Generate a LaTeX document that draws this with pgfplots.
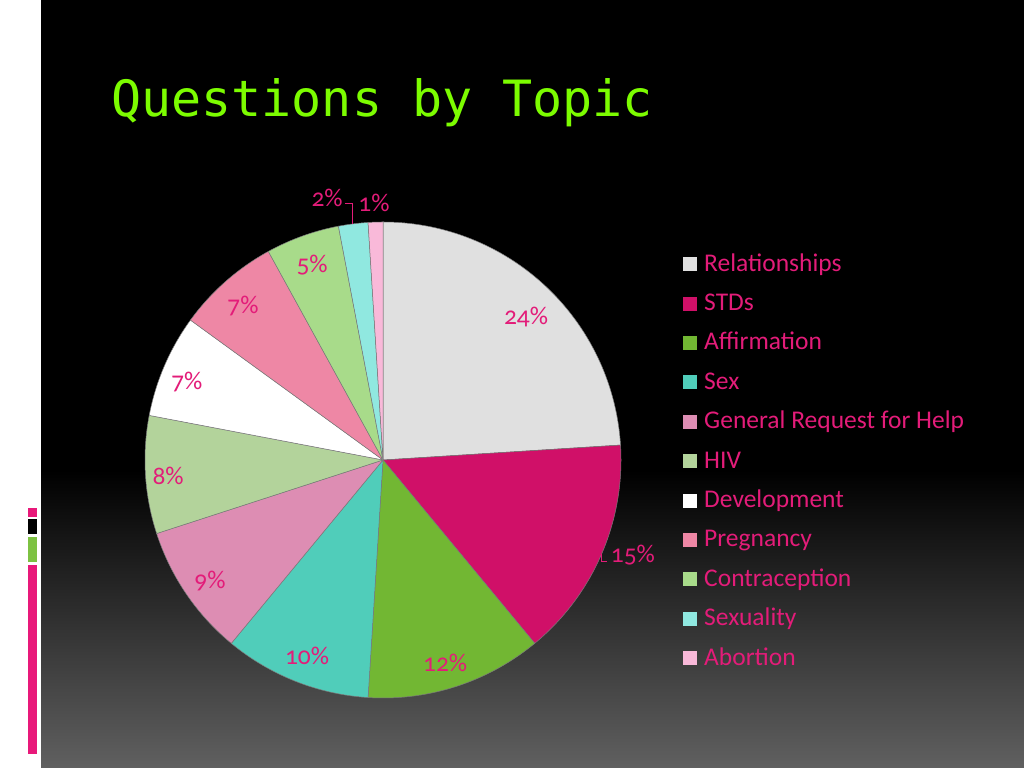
\documentclass[border=0pt]{standalone}
\usepackage{fontspec}
\setmainfont{Carlito}
\newfontfamily\titlefont{DejaVu Sans Mono}
\newfontfamily\numfont{Carlito}[Numbers=OldStyle]
\usepackage{pgfplots}
\pgfplotsset{compat=1.18}

\definecolor{titlegreen}{HTML}{7CFC00}
\definecolor{labelpink}{HTML}{E31C79}
\definecolor{barpink}{HTML}{E8197A}
\definecolor{bargreen}{HTML}{7DC242}
\definecolor{bggray}{HTML}{606060}
\definecolor{sepc}{HTML}{7A7A7A}
\definecolor{cRel}{HTML}{E0E0E0}
\definecolor{cStd}{HTML}{D01068}
\definecolor{cAff}{HTML}{72B733}
\definecolor{cSex}{HTML}{50CDBA}
\definecolor{cGen}{HTML}{DD8DB3}
\definecolor{cHiv}{HTML}{B3D39B}
\definecolor{cDev}{HTML}{FFFFFF}
\definecolor{cPre}{HTML}{EE87A5}
\definecolor{cCon}{HTML}{A8DB8A}
\definecolor{cSxl}{HTML}{90E8E0}
\definecolor{cAbo}{HTML}{F9B9D9}

\tikzset{lbl/.style={font=\numfont\fontsize{25.5bp}{30bp}\selectfont, text=labelpink, inner sep=0pt}}

% running total of the percentages drawn so far
\newcommand\cum{0}
% #1 percentage, #2 colour, #3 legend text
\newcommand\slice[3]{%
  \pgfmathsetmacro\sa{90-3.6*\cum}%
  \pgfmathsetmacro\newcum{\cum+#1}%
  \pgfmathsetmacro\sb{90-3.6*\newcum}%
  \global\let\cum\newcum
  \edef\temp{\noexpand\addplot[fill=#2, draw=sepc, line width=0.5bp,
      domain=\sb:\sa, samples=90] ({cos(x)}, {sin(x)}) -- (axis cs:0,0) -- cycle;}%
  \temp
  \addlegendentry{#3}%
}

\begin{document}
\begin{tikzpicture}[x=1bp, y=1bp]
\useasboundingbox (0,0) rectangle (1024,768);
% slide background
\fill[white] (0,0) rectangle (1024,768);
\fill[black] (41,0) rectangle (1024,768);
\shade[top color=black, bottom color=bggray] (41,0) rectangle (1024,298);
\fill[barpink] (28.3,251.3) rectangle (36.7,260);
\fill[black] (28.3,233.7) rectangle (36.7,248.7);
\fill[bargreen] (28.3,205.7) rectangle (36.7,230.7);
\fill[barpink] (28.3,13.7) rectangle (36.7,202.7);

\node[anchor=base west, inner sep=0pt, text=titlegreen,
  font=\titlefont\fontsize{50bp}{60bp}\selectfont] at (111,651) {Questions by Topic};

\begin{axis}[
  at={(383bp,308bp)}, anchor=center,
  scale only axis, width=476bp, height=476bp,
  xmin=-1, xmax=1, ymin=-1, ymax=1,
  hide axis, clip=false,
  legend image code/.code={\fill[#1, draw=none] (0bp,-7bp) rectangle (14bp,7bp);},
  legend cell align=left,
  legend style={at={(axis description cs:1.1303,0.937)}, anchor=north west,
    draw=none, fill=none, inner sep=0pt, text=labelpink,
    font=\fontsize{25.5bp}{30bp}\selectfont,
    row sep=15.4bp, column sep=7bp,
    nodes={inner sep=0pt, text height=19bp, text depth=5bp}},
]
\slice{24}{cRel}{Relationships}
\slice{15}{cStd}{STDs}
\slice{12}{cAff}{Affirmation}
\slice{10}{cSex}{Sex}
\slice{9}{cGen}{General Request for Help}
\slice{8}{cHiv}{HIV}
\slice{7}{cDev}{Development}
\slice{7}{cPre}{Pregnancy}
\slice{5}{cCon}{Contraception}
\slice{2}{cSxl}{Sexuality}
\slice{1}{cAbo}{Abortion}

\node[lbl] at (axis cs:0.601,0.601) {24\%};
\node[lbl] at (axis cs:1.050,-0.399) {15\%};
\node[lbl] at (axis cs:0.261,-0.853) {12\%};
\node[lbl] at (axis cs:-0.319,-0.824) {10\%};
\node[lbl] at (axis cs:-0.727,-0.508) {9\%};
\node[lbl] at (axis cs:-0.903,-0.067) {8\%};
\node[lbl] at (axis cs:-0.824,0.328) {7\%};
\node[lbl] at (axis cs:-0.588,0.647) {7\%};
\node[lbl] at (axis cs:-0.298,0.819) {5\%};
\node[lbl] at (axis cs:-0.235,1.101) {2\%};
\node[lbl] at (axis cs:-0.038,1.080) {1\%};
\draw[labelpink, line width=0.8bp] (axis cs:-0.160,1.080) -- (axis cs:-0.127,1.080) -- (axis cs:-0.127,0.992);
\draw[labelpink, line width=0.8bp] (axis cs:0.918,-0.397) -- (axis cs:0.918,-0.425) -- (axis cs:0.942,-0.425);
\end{axis}
\end{tikzpicture}
\end{document}
